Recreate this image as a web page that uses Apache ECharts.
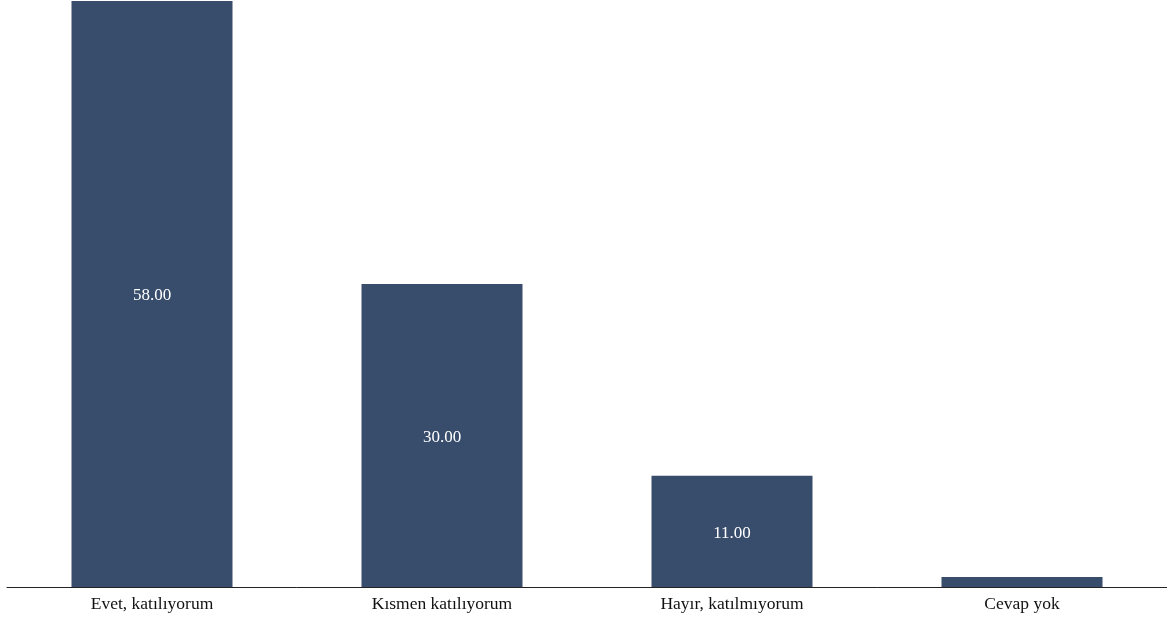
<!DOCTYPE html>
<html>
<head>
<meta charset="utf-8">
<script src="https://cdn.jsdelivr.net/npm/echarts@6/dist/echarts.min.js"></script>
<style>html,body{margin:0;padding:0;background:#fff}#c{width:1167px;height:621px}</style>
</head>
<body>
<div id="c"></div>
<script>
const categories = ["Evet, katılıyorum", "Kısmen katılıyorum", "Hayır, katılmıyorum", "Cevap yok"];
const values = [58, 30, 11, 1];
const yMax = 58;

const chart = echarts.init(document.getElementById('c'), null, {renderer: 'canvas'});
chart.setOption({
  animation: false,
  grid: {left: 7, right: -4, top: 1, bottom: 34, containLabel: false},
  xAxis: {
    type: 'category',
    data: categories,
    axisLine: {show: true, lineStyle: {color: '#222', width: 1}},
    axisTick: {show: false},
    axisLabel: {color: '#111', fontFamily: 'Liberation Serif', fontSize: 17.5, margin: 8}
  },
  yAxis: {
    type: 'value', min: 0, max: yMax, show: false,
    splitLine: {show: false}
  },
  series: [{
    type: 'bar',
    data: values,
    barWidth: 161,
    itemStyle: {color: '#384d6c'},
    label: {
      show: true, position: 'inside',
      formatter: p => p.value >= 5 ? p.value.toFixed(2) : '',
      color: '#fff', fontFamily: 'Liberation Serif', fontSize: 17,
      offset: [0, 2]
    }
  }]
});
</script>
</body>
</html>
